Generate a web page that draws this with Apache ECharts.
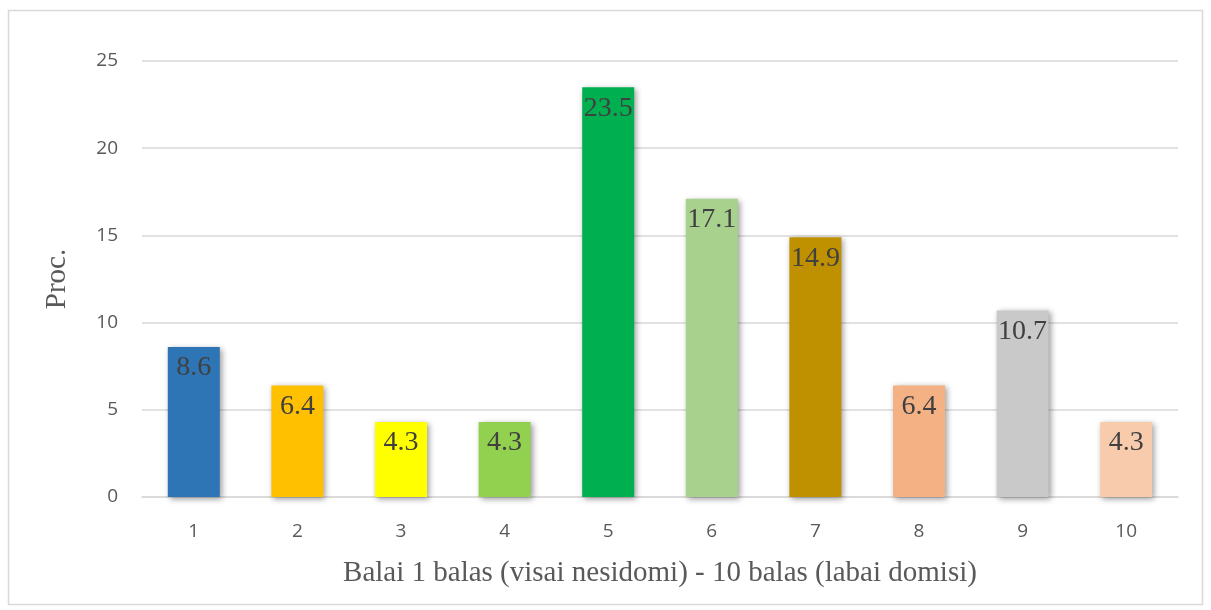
<!DOCTYPE html>
<html><head><meta charset="utf-8">
<script src="https://cdn.jsdelivr.net/npm/echarts@6/dist/echarts.min.js"></script>
<style>html,body{margin:0;padding:0;background:#fff}#c{width:1211px;height:610px}</style>
</head><body><div id="c"></div>
<script>
const categories = ['1','2','3','4','5','6','7','8','9','10'];
const values = [8.6, 6.4, 4.3, 4.3, 23.5, 17.1, 14.9, 6.4, 10.7, 4.3];
const barColors = ['#2E75B6','#FFC000','#FFFF00','#92D050','#00B050','#A9D18E','#BF9000','#F4B183','#C9C9C9','#F8CBAD'];
const xTitle = 'Balai 1 balas (visai nesidomi) - 10 balas (labai domisi)';
const yTitle = 'Proc.';

const chart = echarts.init(document.getElementById('c'));
chart.setOption({
  animation: false,
  graphic: [{type:'rect', shape:{x:8.5,y:10.5,width:1194,height:594}, style:{fill:'none', stroke:'#d9d9d9', lineWidth:1.5}, silent:true}],
  grid: {left:142, right:33, top:61, bottom:113},
  xAxis: {
    type:'category', data: categories,
    axisLine:{lineStyle:{color:'#d9d9d9', width:1.5}},
    axisTick:{show:false},
    axisLabel:{color:'#595959', fontSize:19, fontFamily:'Open Sans, Liberation Sans, sans-serif', margin:25},
    name: xTitle, nameLocation:'middle', nameGap:62,
    nameTextStyle:{color:'#595959', fontSize:29, fontFamily:'Liberation Serif, serif'}
  },
  yAxis: {
    type:'value', min:0, max:25, interval:5,
    axisLine:{show:false}, axisTick:{show:false},
    splitLine:{lineStyle:{color:'#d9d9d9', width:1.5}},
    axisLabel:{color:'#595959', fontSize:19, fontFamily:'Open Sans, Liberation Sans, sans-serif', margin:24},
    name: yTitle, nameLocation:'middle', nameGap:70,
    nameTextStyle:{color:'#595959', fontSize:29, fontFamily:'Liberation Serif, serif'}
  },
  series: [{
    type:'bar', barWidth:52,
    data: values.map((v,i)=>({value:v, itemStyle:{color:barColors[i]}})),
    itemStyle:{shadowBlur:6, shadowColor:'rgba(0,0,0,0.4)', shadowOffsetX:2, shadowOffsetY:2},
    label:{show:true, position:'insideTop', distance:7, color:'#404040', fontSize:28, fontFamily:'Liberation Serif, serif'}
  }]
});
</script></body></html>
